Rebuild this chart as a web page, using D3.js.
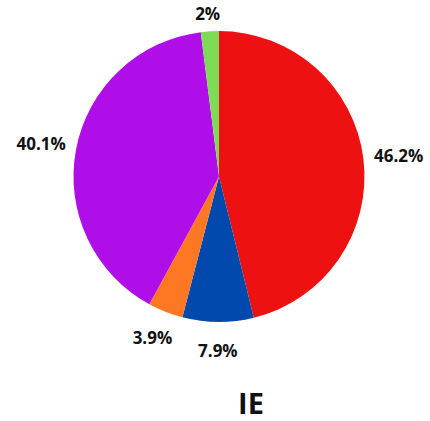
<!DOCTYPE html>
<html><head><meta charset="utf-8">
<script src="https://cdn.jsdelivr.net/npm/d3@7"></script>
<style>html,body{margin:0;padding:0;background:#fff;}svg{display:block;}</style>
</head><body>
<script>
const categories = ["A", "B", "C", "D", "E"];
const values = [46.2, 7.9, 3.9, 40.1, 2];
const labels = ["46.2%", "7.9%", "3.9%", "40.1%", "2%"];
const colors = ["#ee1111", "#0249ad", "#fe7722", "#b00ee8", "#7edb55"];
const title = "IE";

const W = 430, H = 421;
const cx = 219, cy = 176.5, R = 145.5, LRX = 181, LRY = 174;
const svg = d3.select("body").append("svg").attr("width", W).attr("height", H);
const g = svg.append("g").attr("transform", `translate(${cx},${cy})`);
const pie = d3.pie().sort(null).value(d => d)(values);
const arc = d3.arc().innerRadius(0).outerRadius(R);
g.selectAll("path").data(pie).join("path")
  .attr("d", arc).attr("fill", (d, i) => colors[i]);
const font = "'Open Sans', 'Noto Sans', sans-serif";
g.selectAll("text.lbl").data(pie).join("text").attr("class", "lbl")
  .attr("x", d => LRX * Math.sin((d.startAngle + d.endAngle) / 2))
  .attr("y", d => Math.max(-cy + 14, -LRY * Math.cos((d.startAngle + d.endAngle) / 2)))
  .attr("dy", "0.36em")
  .attr("text-anchor", "middle")
  .style("font-family", font).style("font-weight", "700").style("font-size", "17px")
  .attr("fill", "#111")
  .text((d, i) => labels[i]);
svg.append("text").attr("x", 251).attr("y", 414).attr("text-anchor", "middle")
  .style("font-family", font).style("font-weight", "700").style("font-size", "29px")
  .attr("fill", "#111").text(title);
</script>
</body></html>
